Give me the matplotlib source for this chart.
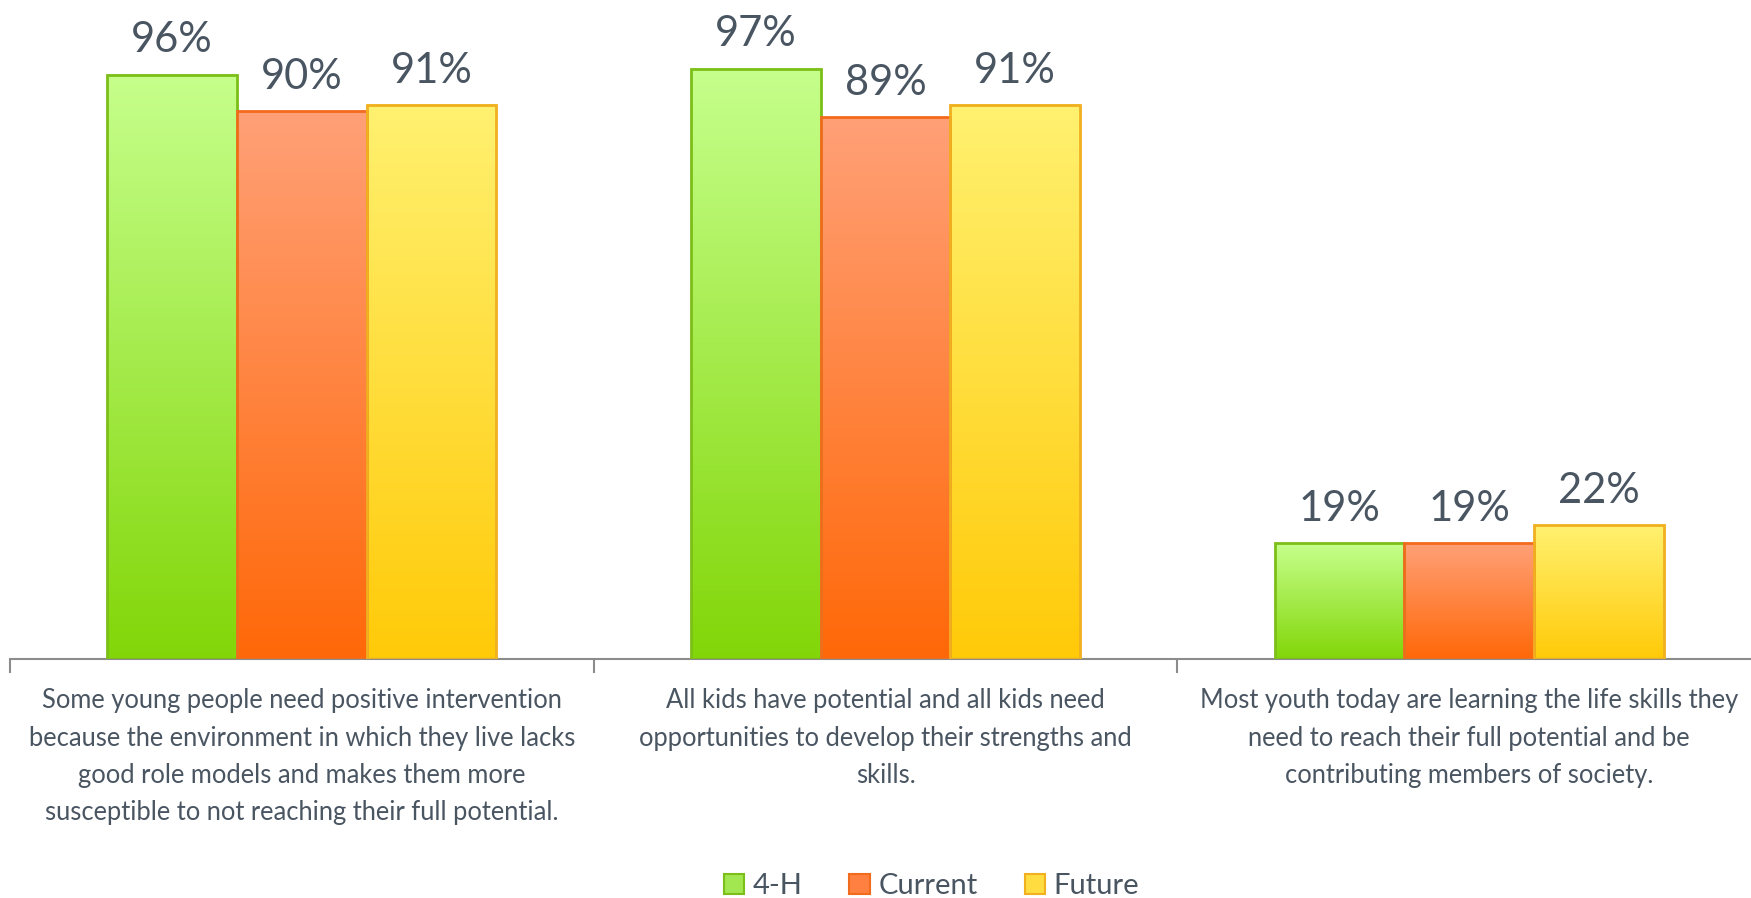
import matplotlib
matplotlib.use("Agg")
import matplotlib.pyplot as plt
from matplotlib.colors import LinearSegmentedColormap
from matplotlib.patches import Patch
import numpy as np

plt.rcParams['font.family'] = ['Lato', 'DejaVu Sans']

categories = [
    "Some young people need positive intervention\nbecause the environment in which they live lacks\n"
    "good role models and makes them more\nsusceptible to not reaching their full potential.",
    "All kids have potential and all kids need\nopportunities to develop their strengths and\nskills.",
    "Most youth today are learning the life skills they\nneed to reach their full potential and be\n"
    "contributing members of society.",
]
series_names = ["4-H", "Current", "Future"]
vals_4h = [96, 97, 19]
vals_current = [90, 89, 19]
vals_future = [91, 91, 22]

# top colour, bottom colour, edge colour, legend colour per series
grad = [("#c6ff8c", "#82d608", "#7cbf18", "#a2e650"),
        ("#ffa077", "#ff6808", "#f26b1d", "#ff8040"),
        ("#fff170", "#ffca08", "#f0b020", "#ffdc40")]
text_col = "#4a5562"

fig = plt.figure(figsize=(17.51, 8.98), dpi=100)
ax = fig.add_axes([0.0057, 0.266, 1.0, 0.678])

x = np.arange(len(categories))
w = 0.222
data = [vals_4h, vals_current, vals_future]
for i, vals in enumerate(data):
    top, bot, edge, _ = grad[i]
    cmap = LinearSegmentedColormap.from_list("g%d" % i, [bot, top])
    bars = ax.bar(x + (i - 1) * w, vals, w, facecolor="none", edgecolor=edge,
                  linewidth=2, zorder=3)
    for b, v in zip(bars, vals):
        x0 = b.get_x()
        g = np.linspace(0, 1, 256).reshape(-1, 1)
        ax.imshow(g, cmap=cmap, origin="lower", aspect="auto", zorder=2,
                  extent=[x0, x0 + b.get_width(), 0, v], interpolation="bicubic")
        ax.annotate("%d%%" % v, (x0 + b.get_width() / 2, v), xytext=(0, 11),
                    textcoords="offset points", ha="center", va="bottom",
                    fontsize=30, color=text_col, annotation_clip=False)

ax.set_xlim(-0.5, 2.5)
ax.set_ylim(0, 100)
for s in ["top", "left", "right"]:
    ax.spines[s].set_visible(False)
ax.spines["bottom"].set_color("#8c8c8c")
ax.spines["bottom"].set_linewidth(1.5)
ax.set_yticks([])
ax.set_xticks([-0.5, 0.5, 1.5, 2.5])
ax.set_xticklabels([])
ax.tick_params(axis="x", length=10, width=1.5, color="#8c8c8c", direction="out")
ax.set_xticks(x, minor=True)
ax.set_xticklabels(categories, minor=True, fontsize=18.4, color=text_col,
                   linespacing=1.62)
ax.tick_params(axis="x", which="minor", length=0, pad=21)

handles = [Patch(facecolor=grad[i][3], edgecolor=grad[i][2], linewidth=1.5)
           for i in range(3)]
fig.legend(handles, series_names, loc="center", bbox_to_anchor=(0.532, 0.013),
           ncol=3, frameon=False, fontsize=21, handlelength=0.7, handleheight=0.7,
           handletextpad=0.3, columnspacing=1.6, labelcolor=text_col)

fig.savefig("out.png", dpi=100)
